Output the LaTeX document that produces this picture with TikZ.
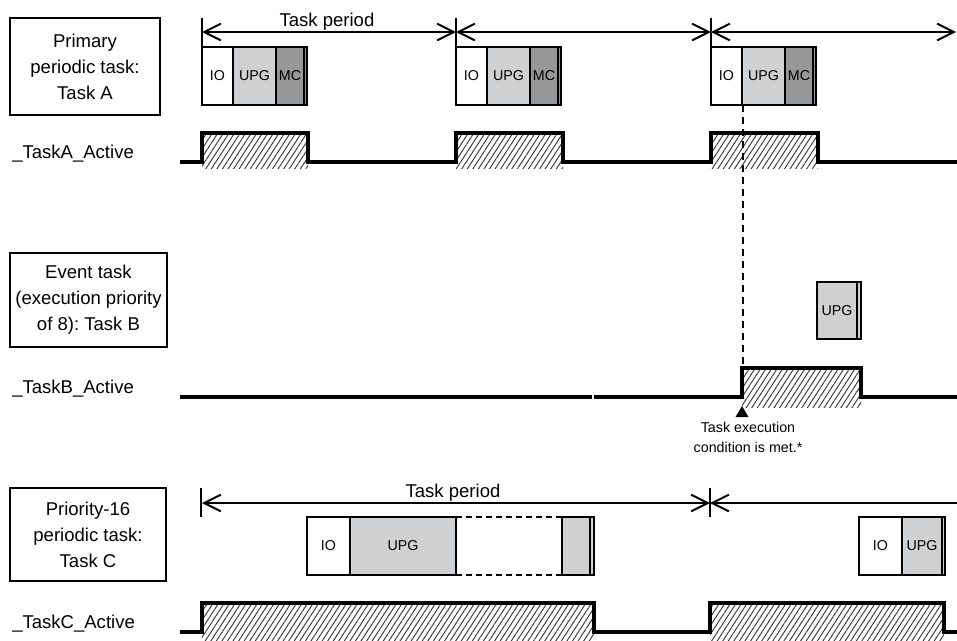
\documentclass[tikz,border=0pt]{standalone}
\usepackage{fontspec}
\setmainfont{Liberation Sans}
\usetikzlibrary{arrows.meta,patterns.meta}
\definecolor{upgc}{RGB}{208,209,211}
\definecolor{mcc}{RGB}{150,151,153}
\definecolor{hatchc}{RGB}{55,55,55}
\frenchspacing
\begin{document}
\begin{tikzpicture}[x=0.75pt,y=-0.75pt,
  big/.style={font=\fontsize{13.9}{19.5}\selectfont},
  small/.style={font=\fontsize{10.7}{15}\selectfont},
  lbox/.style={draw,line width=1.1pt,align=center,big,inner sep=0pt},
  sig/.style={line width=2.3pt,line join=miter},
  hatch/.style={pattern={Lines[angle=57,distance=3.5pt,line width=0.7pt]},pattern color=hatchc},
  blkline/.style={draw,line width=0.8pt},
  per/.style={line width=1.5pt,{Straight Barb[length=12.5pt,width=12.5pt,line width=1.5pt]}-{Straight Barb[length=12.5pt,width=12.5pt,line width=1.5pt]}},
  perl/.style={line width=1.5pt,{Straight Barb[length=12.5pt,width=12.5pt,line width=1.5pt]}-},
  tick/.style={line width=1.1pt},
  lab/.style={big,anchor=base west,inner sep=0pt},
  blab/.style={small,inner sep=0pt}
]
\useasboundingbox[fill=white] (0,0) rectangle (957,640);

% ---------------- Task A ----------------
\node[lbox,minimum width=112.5pt,minimum height=72.75pt] (boxA) at (85,66.5) {Primary\\periodic task:\\Task A};
\node[lab] (actA) at (12,158) {\_TaskA\_Active};

\coordinate (ta1) at (202,32);
\coordinate (ta2) at (456,32);
\coordinate (ta3) at (711,32);
\coordinate (ta4) at (956,32);
\draw[tick] (202,18) -- (202,47);
\draw[tick] (456,18) -- (456,47);
\draw[tick] (711,18) -- (711,47);
\draw[per] (ta1) -- (ta2);
\draw[per] (ta2) -- (ta3);
\draw[per] (ta3) -- (ta4);
\node[big,anchor=base,inner sep=0pt] (perA) at (327,26) {Task period};

% blocks A
\foreach \s/\n in {0/1,254/2,509/3}{
  \draw[blkline,fill=white] (202+\s,47) rectangle (233+\s,105);
  \draw[blkline,fill=upgc] (233+\s,47) rectangle (276+\s,105);
  \draw[blkline,fill=mcc] (276+\s,47) rectangle (304+\s,105);
  \draw[blkline,fill=mcc] (304+\s,47) rectangle (307+\s,105);
  \node[blab] (ioA\n) at (217.5+\s,76) {IO};
  \node[blab] (upgA\n) at (254.5+\s,76) {UPG};
  \node[blab] (mcA\n) at (290+\s,76) {MC};
}

% signal A
\fill[hatch] (202,133) rectangle (308,168);
\fill[hatch] (456,133) rectangle (563,168);
\fill[hatch] (711,133) rectangle (818,168);
\draw[sig] (180,162) -- (202,162) -- (202,133) -- (308,133) -- (308,162) -- (456,162) -- (456,133) -- (563,133) -- (563,162) -- (711,162) -- (711,133) -- (818,133) -- (818,162) -- (957,162);

% ---------------- Task B ----------------
\node[lbox,minimum width=117.75pt,minimum height=70.5pt] (boxB) at (88.5,300) {Event task\\(execution priority\\of 8): Task B};
\node[lab] (actB) at (12,393) {\_TaskB\_Active};

\coordinate (dtop) at (743,105);
\coordinate (dbot) at (743,368);
\draw[line width=1.1pt,dash pattern=on 5.5pt off 3.5pt] (dtop) -- (dbot);

\draw[blkline,fill=upgc] (817,282) rectangle (857,339);
\draw[blkline,fill=upgc] (857,282) rectangle (861,339);
\node[blab] (upgB) at (837,310.5) {UPG};

\fill[hatch] (742,368) rectangle (861,407);
\draw[sig] (180,397) -- (592,397);
\draw[sig] (594,397) -- (742,397) -- (742,368) -- (861,368) -- (861,397) -- (957,397);

\fill (742,406) -- (735.5,417) -- (748.5,417) -- cycle;
\node[small,align=center,inner sep=0pt] (cond) at (748,437) {Task execution\\condition is met.*};

% ---------------- Task C ----------------
\node[lbox,minimum width=117pt,minimum height=69.75pt] (boxC) at (88,534.5) {Priority-16\\periodic task:\\Task C};
\node[lab] (actC) at (12,628) {\_TaskC\_Active};

\coordinate (tc1) at (202,503);
\coordinate (tc2) at (710,503);
\coordinate (tc3) at (957,503);
\draw[tick] (201,488) -- (201,517);
\draw[tick] (710,488) -- (710,517);
\draw[per] (tc1) -- (tc2);
\draw[perl] (tc2) -- (tc3);
\node[big,anchor=base,inner sep=0pt] (perC) at (453,497) {Task period};

\draw[blkline,fill=white] (307,517) rectangle (350,575);
\draw[blkline,fill=upgc] (350,517) rectangle (456,575);
\draw[line width=0.8pt,dash pattern=on 4.5pt off 3pt] (456,517) -- (562,517);
\draw[line width=0.8pt,dash pattern=on 4.5pt off 3pt] (456,575) -- (562,575);
\draw[blkline,fill=upgc] (562,517) rectangle (590,575);
\draw[blkline,fill=upgc] (590,517) rectangle (594,575);
\node[blab] (ioC1) at (328.5,546) {IO};
\node[blab] (upgC1) at (403,546) {UPG};

\draw[blkline,fill=white] (859,517) rectangle (902,575);
\draw[blkline,fill=upgc] (902,517) rectangle (942,575);
\draw[blkline,fill=upgc] (942,517) rectangle (945,575);
\node[blab] (ioC2) at (880.5,546) {IO};
\node[blab] (upgC2) at (922,546) {UPG};

\fill[hatch] (202,603) rectangle (594,640);
\fill[hatch] (710,603) rectangle (944,640);
\draw[sig] (180,632) -- (202,632) -- (202,603) -- (594,603) -- (594,632) -- (710,632) -- (710,603) -- (944,603) -- (944,632) -- (957,632);
\end{tikzpicture}
\end{document}
